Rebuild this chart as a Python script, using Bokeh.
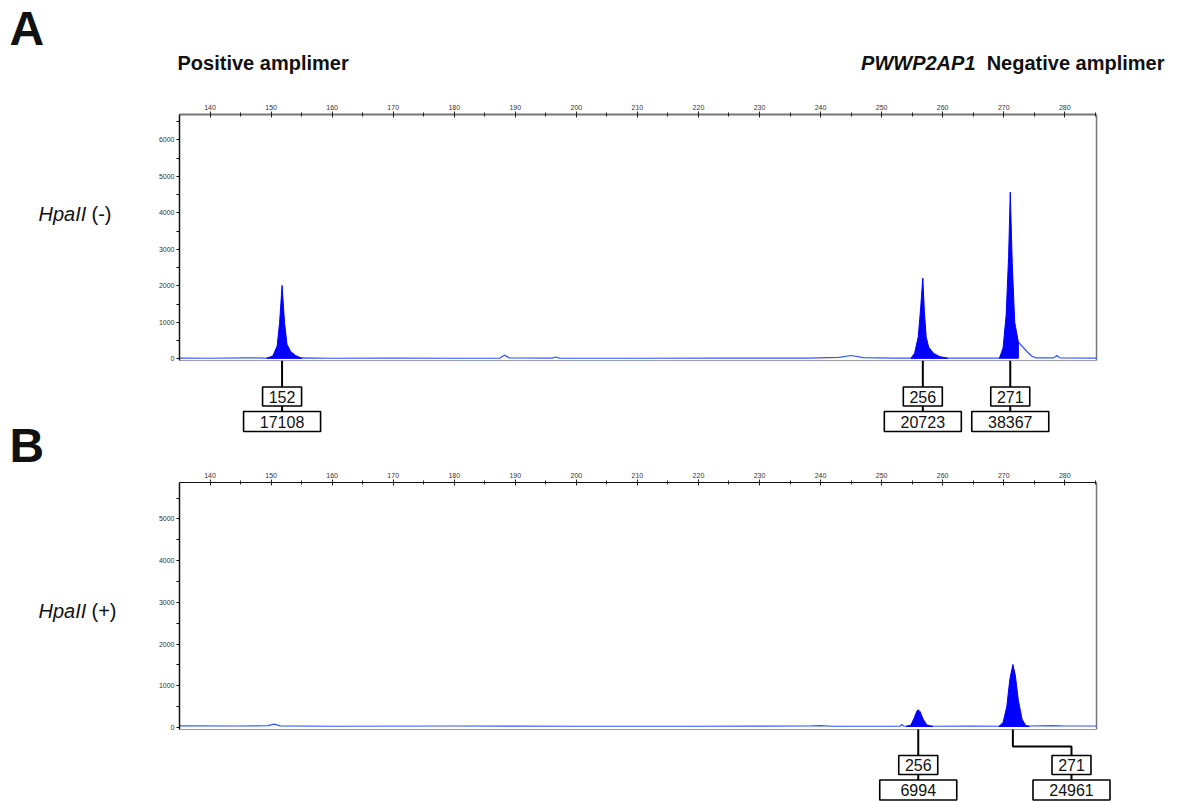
from bokeh.plotting import figure
from bokeh.models import Range1d, FixedTicker
from bokeh.layouts import column, row
from bokeh.embed import file_html
from bokeh.resources import INLINE
from bokeh.core.properties import value

FONT = "Liberation Sans"

# ---------------- data ----------------
X_MIN, X_MAX = 135.0, 285.2
X_VIEW_MAX = 288.8
X_TICKS = list(range(140, 290, 10))
X_MINOR = [145 + 10 * i for i in range(15)]

# Panel A (HpaII -)
A_Y_TICKS = [0, 1000, 2000, 3000, 4000, 5000, 6000]
A_Y_MINOR = [500, 1500, 2500, 3500, 4500, 5500, 6500]
A_Y_TOP = 6693
A_BASE_X = [135, 140, 146, 149.3, 155, 160, 170, 180, 187.5, 188.2, 189, 196, 196.6, 197.2, 210, 225,
            238, 243, 245, 247, 252, 254.8, 260.8, 269.3, 272.4, 273.0, 273.8, 274.6, 275.3, 278.2,
            278.7, 279.2, 285.2]
A_BASE_Y = [20, 15, 25, 20, 25, 15, 20, 15, 20, 100, 25, 20, 50, 20, 15, 20,
            20, 40, 90, 30, 20, 20, 20, 20, 455, 350, 200, 70, 25, 25,
            90, 25, 20]
A_P152_X = [149.3, 150.3, 151.0, 151.4, 151.8, 152.2, 152.6, 153.2, 154.0, 155.0]
A_P152_Y = [15, 80, 350, 1000, 2010, 1000, 400, 200, 90, 15]
A_P256_X = [254.8, 255.4, 256.0, 256.4, 256.75, 257.0, 257.3, 257.7, 258.5, 259.5, 260.8]
A_P256_Y = [15, 150, 600, 1400, 2210, 1300, 600, 320, 150, 60, 15]
A_P271_X = [269.3, 269.9, 270.4, 270.8, 271.07, 271.4, 271.8, 272.4, 272.4]
A_P271_Y = [15, 300, 1200, 2800, 4564, 2600, 1000, 455, 15]
A_LAB_X = [151.8, 256.75, 271.07]
A_SIZES = ["152", "256", "271"]
A_AREAS = ["17108", "20723", "38367"]

# Panel B (HpaII +)
B_Y_TICKS = [0, 1000, 2000, 3000, 4000, 5000]
B_Y_MINOR = [500, 1500, 2500, 3500, 4500, 5500]
B_Y_TOP = 5875
B_BASE_X = [135, 145, 149.5, 150.5, 151.5, 160, 180, 200, 220, 238, 240, 242, 253, 253.3, 253.6,
            254, 258.4, 265, 269.2, 274.2, 278, 280, 285.2]
B_BASE_Y = [40, 35, 45, 80, 40, 30, 35, 30, 30, 35, 45, 30, 30, 70, 30,
            30, 30, 35, 30, 35, 45, 35, 35]
B_P256_X = [254.0, 254.8, 255.4, 255.8, 256.0, 256.3, 256.8, 257.4, 258.4]
B_P256_Y = [25, 60, 250, 400, 424, 380, 200, 60, 25]
B_P271_X = [269.2, 269.9, 270.5, 271.0, 271.5, 271.9, 272.4, 273.0, 273.6, 274.2]
B_P271_Y = [25, 120, 500, 1150, 1511, 1250, 650, 200, 50, 25]
B_PEAK_X = [256.0, 271.5]
B_LAB_X = [256.0, 281.1]
B_SIZES = ["256", "271"]
B_AREAS = ["6994", "24961"]

PEAK_COLOR = "#0000ff"
BASE_COLOR = "#3355ff"
BOX_BOTTOM = -50


def text_fig(width, height, x0):
    p = figure(width=width, height=height, x_range=Range1d(x0, x0 + width), y_range=Range1d(height, 0),
               x_axis_location=None, y_axis_location=None, output_backend="svg", toolbar_location=None,
               min_border=0, frame_align=False)
    p.outline_line_color = None
    p.grid.visible = False
    p.background_fill_color = "white"
    p.border_fill_color = "white"
    return p


def put(p, x, y, txt, size, style="normal", align="left"):
    p.text(x=[x], y=[y], text=[txt], text_font=value(FONT), text_font_size=size,
           text_font_style=style, text_align=align, text_baseline="middle", text_color="#111111")


def make_panel(height, top_border, y_range, ann_range, y_ticks, y_minor, y_top, top_axis_color, top_axis_w):
    p = figure(width=1038, height=height, x_range=Range1d(X_MIN, X_VIEW_MAX), y_range=Range1d(*y_range),
               x_axis_location="above", y_axis_location="left", output_backend="svg",
               toolbar_location=None, min_border_left=39, min_border_right=60,
               min_border_top=top_border, min_border_bottom=0, frame_align=False)
    p.outline_line_color = None
    p.grid.visible = False
    p.background_fill_color = "white"
    p.border_fill_color = "white"
    p.extra_y_ranges = {"ann": Range1d(*ann_range)}

    xa = p.xaxis[0]
    xa.ticker = FixedTicker(ticks=X_TICKS, minor_ticks=X_MINOR)
    xa.bounds = (X_MIN, X_MAX)
    xa.major_label_text_font_size = "7px"
    xa.major_label_text_font = FONT
    xa.major_label_text_color = "#333333"
    xa.major_label_standoff = 2
    xa.major_tick_in = 3
    xa.major_tick_out = 3
    xa.minor_tick_in = 2
    xa.minor_tick_out = 2
    xa.axis_line_color = top_axis_color
    xa.axis_line_width = top_axis_w
    xa.major_tick_line_color = "#222222"
    xa.minor_tick_line_color = "#222222"

    ya = p.yaxis[0]
    ya.ticker = FixedTicker(ticks=y_ticks, minor_ticks=y_minor)
    ya.bounds = (BOX_BOTTOM, y_top)
    ya.major_label_text_font_size = "7px"
    ya.major_label_text_font = FONT
    ya.major_label_text_color = "#333333"
    ya.major_label_standoff = 2
    ya.major_tick_in = 0
    ya.major_tick_out = 3
    ya.minor_tick_in = 0
    ya.minor_tick_out = 3
    ya.axis_line_color = "#111111"
    ya.axis_line_width = 1.5

    # right and bottom edges of the trace box
    p.line([X_MAX, X_MAX], [BOX_BOTTOM, y_top], line_color="#777777", line_width=1.5)
    p.line([X_MIN, X_MAX], [BOX_BOTTOM, BOX_BOTTOM], line_color="#999999", line_width=1)
    return p


def draw_labels(p, anchor_x, lab_x, sizes, areas, size_c, area_c):
    for ax, lx in zip(anchor_x, lab_x):
        if abs(ax - lx) < 0.5:
            p.line([ax, ax], [-2, area_c], line_color="black", line_width=2, y_range_name="ann")
        else:
            p.line([ax, ax, lx, lx], [-2, -19, -19, area_c], line_color="black", line_width=2,
                   y_range_name="ann")
    p.rect(x=lab_x, y=[size_c] * len(lab_x), width=39, height=19, width_units="screen",
           height_units="screen", fill_color="white", line_color="black", line_width=1.6,
           y_range_name="ann")
    p.rect(x=lab_x, y=[area_c] * len(lab_x), width=77, height=20, width_units="screen",
           height_units="screen", fill_color="white", line_color="black", line_width=1.6,
           y_range_name="ann")
    p.text(x=lab_x, y=[size_c] * len(lab_x), text=sizes, text_align="center", text_baseline="middle",
           text_font=value(FONT), text_font_size="16px", text_color="#111111", y_range_name="ann")
    p.text(x=lab_x, y=[area_c] * len(lab_x), text=areas, text_align="center", text_baseline="middle",
           text_font=value(FONT), text_font_size="16px", text_color="#111111", y_range_name="ann")


# ---------------- Panel A ----------------
pA = make_panel(366, 14, (-2951, A_Y_TOP), (-107.7, 244.3), A_Y_TICKS, A_Y_MINOR, A_Y_TOP, "#777777", 2)
pA.line(A_BASE_X, A_BASE_Y, line_color=BASE_COLOR, line_width=1.2)
pA.patch(A_P152_X, A_P152_Y, fill_color=PEAK_COLOR, line_color=PEAK_COLOR, line_width=1)
pA.patch(A_P256_X, A_P256_Y, fill_color=PEAK_COLOR, line_color=PEAK_COLOR, line_width=1)
pA.patch(A_P271_X, A_P271_Y, fill_color=PEAK_COLOR, line_color=PEAK_COLOR, line_width=1)
draw_labels(pA, A_LAB_X, A_LAB_X, A_SIZES, A_AREAS, -37.7, -62.7)

# ---------------- Panel B ----------------
pB = make_panel(335, 16, (-1775, B_Y_TOP), (-74, 245), B_Y_TICKS, B_Y_MINOR, B_Y_TOP, "#111111", 1.2)
pB.line(B_BASE_X, B_BASE_Y, line_color=BASE_COLOR, line_width=1.2)
pB.patch(B_P256_X, B_P256_Y, fill_color=PEAK_COLOR, line_color=PEAK_COLOR, line_width=1)
pB.patch(B_P271_X, B_P271_Y, fill_color=PEAK_COLOR, line_color=PEAK_COLOR, line_width=1)
draw_labels(pB, B_PEAK_X, B_LAB_X, B_SIZES, B_AREAS, -37.5, -62.5)

# ---------------- text areas ----------------
top = text_fig(1038, 100, 140)
put(top, 177, 62, "Positive amplimer", "20px", "bold")
put(top, 975, 62, "PWWP2AP1", "20px", "bold italic", "right")
put(top, 1164, 62, "Negative amplimer", "20px", "bold", "right")

left = text_fig(140, 801, 0)
put(left, 9, 28, "A", "48px", "bold")
put(left, 38, 213, "HpaII", "20px", "italic")
put(left, 91, 213, "(-)", "20px")
put(left, 9, 445, "B", "48px", "bold")
put(left, 38, 610, "HpaII", "20px", "italic")
put(left, 91, 610, "(+)", "20px")

layout = row(left, column(top, pA, pB, spacing=0), spacing=0)
open("out.html", "w").write(file_html(layout, INLINE))
